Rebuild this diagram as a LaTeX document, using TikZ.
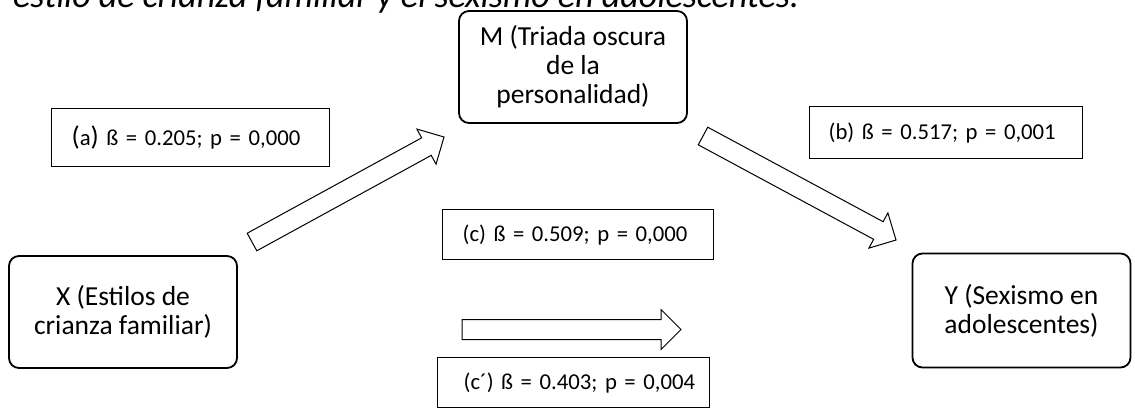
\documentclass[tikz,border=0pt]{standalone}
\usepackage{fontspec}
\setmainfont{Carlito}
\usetikzlibrary{calc}
\newcommand\blockarrow[2]{%
  \draw[barrow] ($(#1)!10pt!-90:(#2)$)
    -- ($(#2)!20pt!(#1)!10pt!-90:(#2)$)
    -- ($(#2)!20pt!(#1)!20pt!-90:(#2)$)
    -- (#2)
    -- ($(#2)!20pt!(#1)!20pt!90:(#2)$)
    -- ($(#2)!20pt!(#1)!10pt!90:(#2)$)
    -- ($(#1)!10pt!90:(#2)$) -- cycle;}
\tikzset{
  var/.style={draw, line width=1.8pt, rounded corners=10pt, align=center,
    font=\fontsize{27.5}{29}\selectfont, inner sep=0pt},
  lbl/.style={draw, line width=1.3pt, font=\fontsize{22.7}{27}\selectfont,
    align=left, inner sep=0pt, anchor=north west},
  barrow/.style={draw, line width=1pt, line join=miter, fill=white},
  capt/.style={anchor=base west, inner sep=0pt, font=\fontsize{36}{38}\selectfont\itshape}
}
\begin{document}
\begin{tikzpicture}[x=1pt,y=-1pt]
\useasboundingbox (0,0) rectangle (1135,408);
\begin{scope}
\clip (0,0) rectangle (1135,408);
\fill[white] (0,0) rectangle (1135,408);
\node[capt] (cap) at (13,7) {estilo de crianza familiar y el sexismo en adolescentes.};
% variables
\node[var, minimum width=228pt, minimum height=112pt] (M) at (573,67)
  {M (Triada oscura\\de la\\personalidad)};
\node[var, minimum width=228pt, minimum height=112pt] (X) at (123,312)
  {X (Estilos de\\crianza familiar)};
\node[var, minimum width=218pt, minimum height=114pt] (Y) at (1021.5,310.5)
  {Y (Sexismo en\\adolescentes)};
% labels
\node[lbl, text width=278pt, minimum height=58pt] (la) at (51,108)
  {\hspace*{20pt}{\fontsize{27}{27}\selectfont(}a{\fontsize{27}{27}\selectfont)} ß = 0.205; p = 0,000};
\node[lbl, text width=273pt, minimum height=52pt] (lb) at (809,106)
  {\hspace*{19pt}(b) ß = 0.517; p = 0,001};
\node[lbl, text width=271pt, minimum height=50pt] (lc) at (442,209)
  {\hspace*{20pt}(c) ß = 0.509; p = 0,000};
\node[lbl, text width=272pt, minimum height=50pt] (lcp) at (437,357)
  {\hspace*{26pt}(c´) ß = 0.403; p = 0,004};
% block arrows
\coordinate (a0) at (252,242);
\coordinate (a1) at (444,137);
\coordinate (b0) at (703,136);
\coordinate (b1) at (896,240);
\coordinate (c0) at (462,329.5);
\coordinate (c1) at (681,329.5);
\blockarrow{a0}{a1}
\blockarrow{b0}{b1}
\blockarrow{c0}{c1}
\end{scope}
\end{tikzpicture}
\end{document}
